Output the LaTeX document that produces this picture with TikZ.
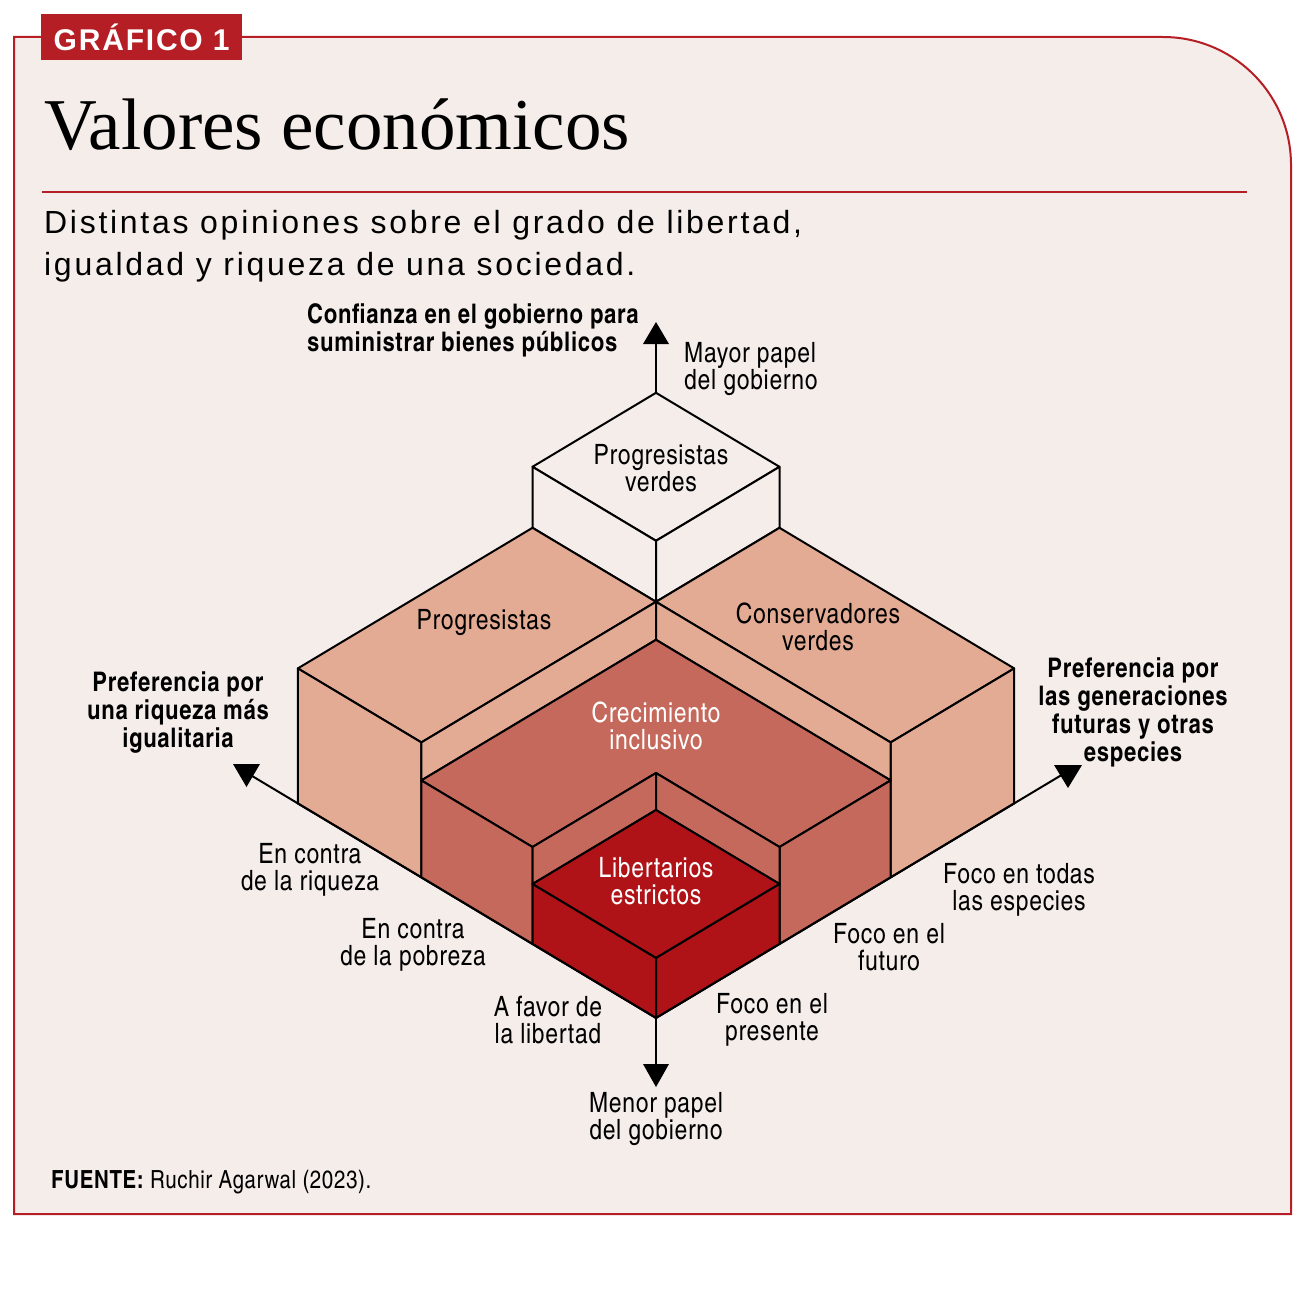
\documentclass[tikz,border=0pt]{standalone}
\usepackage{fontspec}
\usepackage{tikz}
\usetikzlibrary{positioning}
\setmainfont{Liberation Sans}
\newfontfamily\condensada{texgyreheroscn}[Extension=.otf, UprightFont=*-regular, BoldFont=*-bold, LetterSpace=2.5]
\newfontfamily\serifa{Liberation Serif}
\newfontfamily\espaciada{Liberation Sans}[LetterSpace=6]
\newfontfamily\subtitular{Liberation Sans}[LetterSpace=8.5]
\definecolor{fondo}{HTML}{F5EDEA}
\definecolor{rojo}{HTML}{B51E24}
\definecolor{salmon}{HTML}{E3AB94}
\definecolor{medio}{HTML}{C5695C}
\definecolor{oscuro}{HTML}{AF1318}
\tikzstyle{cara} = [draw=black, line width=2pt, line join=round]
\tikzstyle{eje} = [draw=black, line width=2pt]
\tikzstyle{punta} = [fill=black]
\tikzstyle{etiqueta} = [font=\condensada\fontsize{28}{27}\selectfont, align=center, inner sep=0pt]
\tikzstyle{etiquetanegrita} = [font=\condensada\bfseries\fontsize{27}{28}\selectfont, align=center, inner sep=0pt]
\tikzstyle{etiquetablanca} = [etiqueta, text=white]
\begin{document}
\begin{tikzpicture}[x=1pt, y=-1pt]
	\fill[white] (0,0) rectangle (1300,1300);
	\useasboundingbox (0,0) rectangle (1300,1300);
	\path[fill=fondo, draw=rojo, line width=2pt] (14,1214) -- (14,37) -- (1163,37) arc[start angle=90, end angle=0, radius=128pt] -- (1291,1214) -- cycle;
	\node[fill=rojo, text=white, font=\espaciada\bfseries\fontsize{30}{30}\selectfont, minimum width=201pt, minimum height=46pt, inner sep=0pt, anchor=north west] (grafico) at (41,14) {GRÁFICO 1};
	\node[font=\serifa\fontsize{73}{73}\selectfont, inner sep=0pt, anchor=base west] (titulo) at (44,150) {Valores económicos};
	\draw[rojo, line width=2pt] (42,192) -- (1247,192);
	\node[font=\subtitular\fontsize{32}{42}\selectfont, align=left, inner sep=0pt, anchor=north west] (subtitulo) at (44,210) {Distintas opiniones sobre el grado de libertad,\\igualdad y riqueza de una sociedad.};

	\begin{scope}[shift={(656,1018)}, x={(-123.5pt,74pt)}, y={(123.5pt,74pt)}, z={(0pt,1pt)}]
		\coordinate (origen) at (0,0,0);
		\coordinate (cima) at (2.9,2.9,196);
		\coordinate (finIzq) at (3.28,0,0);
		\coordinate (finDer) at (0,3.3,0);
		\path[cara, fill=fondo] (1.9,1.9,196) -- (2.9,1.9,196) -- (2.9,2.9,196) -- (1.9,2.9,196) -- cycle;
		\path[cara, fill=fondo] (1.9,1.9,135) -- (2.9,1.9,135) -- (2.9,1.9,196) -- (1.9,1.9,196) -- cycle;
		\path[cara, fill=fondo] (1.9,1.9,135) -- (1.9,2.9,135) -- (1.9,2.9,196) -- (1.9,1.9,196) -- cycle;
		\path[cara, fill=salmon] (1.9,0,135) -- (2.9,0,135) -- (2.9,1.9,135) -- (1.9,1.9,135) -- cycle;
		\path[cara, fill=salmon] (1.9,0,0) -- (2.9,0,0) -- (2.9,0,135) -- (1.9,0,135) -- cycle;
		\path[cara, fill=salmon] (1.9,0,97) -- (1.9,1.9,97) -- (1.9,1.9,135) -- (1.9,0,135) -- cycle;
		\path[cara, fill=salmon] (0,1.9,135) -- (0,2.9,135) -- (1.9,2.9,135) -- (1.9,1.9,135) -- cycle;
		\path[cara, fill=salmon] (0,1.9,0) -- (0,2.9,0) -- (0,2.9,135) -- (0,1.9,135) -- cycle;
		\path[cara, fill=salmon] (0,1.9,97) -- (1.9,1.9,97) -- (1.9,1.9,135) -- (0,1.9,135) -- cycle;
		\path[cara, fill=medio] (1.9,0,97) -- (1.9,1.9,97) -- (0,1.9,97) -- (0,1,97) -- (1,1,97) -- (1,0,97) -- cycle;
		\path[cara, fill=medio] (1,0,0) -- (1.9,0,0) -- (1.9,0,97) -- (1,0,97) -- cycle;
		\path[cara, fill=medio] (0,1,0) -- (0,1.9,0) -- (0,1.9,97) -- (0,1,97) -- cycle;
		\path[cara, fill=medio] (1,0,60) -- (1,1,60) -- (1,1,97) -- (1,0,97) -- cycle;
		\path[cara, fill=medio] (0,1,60) -- (1,1,60) -- (1,1,97) -- (0,1,97) -- cycle;
		\path[cara, fill=oscuro] (0,0,60) -- (1,0,60) -- (1,1,60) -- (0,1,60) -- cycle;
		\path[cara, fill=oscuro] (0,0,0) -- (1,0,0) -- (1,0,60) -- (0,0,60) -- cycle;
		\path[cara, fill=oscuro] (0,0,0) -- (0,1,0) -- (0,1,60) -- (0,0,60) -- cycle;
	\end{scope}

	\coordinate (puntaArriba) at (656,322);
	\coordinate (puntaAbajo) at (656,1087);
	\coordinate (puntaIzq) at (246.5,787);
	\coordinate (puntaDer) at (1068,788);
	\draw[eje] (cima) -- ([yshift=-12pt]puntaArriba);
	\draw[eje] (origen) -- ([yshift=12pt]puntaAbajo);
	\draw[eje] (origen) -- (finIzq);
	\draw[eje] (origen) -- (finDer);
	\fill[punta] (puntaArriba) -- ++(-13,22) -- ++(26,0) -- cycle;
	\fill[punta] (puntaAbajo) -- ++(-13,-23) -- ++(26,0) -- cycle;
	\fill[punta] (puntaIzq) -- ++(-13.5,-23) -- ++(27,0) -- cycle;
	\fill[punta] (puntaDer) -- ++(-14,-23) -- ++(28,0) -- cycle;

	\node[etiqueta] (progverdes) at (661,468) {Progresistas\\verdes};
	\node[etiqueta] (progresistas) at (484,623) {Progresistas};
	\node[etiqueta] (conservadores) at (818,627) {Conservadores\\verdes};
	\node[etiquetablanca] (crecimiento) at (656,726) {Crecimiento\\inclusivo};
	\node[etiquetablanca] (libertarios) at (656,881) {Libertarios\\estrictos};
	\node[etiqueta] (riqueza) at (310,870) {En contra\\de la riqueza};
	\node[etiqueta] (pobreza) at (413,945) {En contra\\de la pobreza};
	\node[etiqueta] (libertad) at (548,1020) {A favor de\\la libertad};
	\node[etiqueta] (presente) at (772,1020) {Foco en el\\presente};
	\node[etiqueta] (futuro) at (889,947) {Foco en el\\futuro};
	\node[etiqueta] (especies) at (1019,890) {Foco en todas\\las especies};
	\node[etiqueta, below=5pt of puntaAbajo] (menor) {Menor papel\\del gobierno};
	\node[etiqueta, align=left, anchor=west] (mayor) at (684,369) {Mayor papel\\del gobierno};
	\node[etiquetanegrita, align=left, anchor=west] (confianza) at (307,330) {Confianza en el gobierno para\\suministrar bienes públicos};
	\node[etiquetanegrita] (igualitaria) at (178,713) {Preferencia por\\una riqueza más\\igualitaria};
	\node[etiquetanegrita] (generaciones) at (1133,712) {Preferencia por\\las generaciones\\futuras y otras\\especies};
	\node[etiqueta, font=\condensada\fontsize{25}{25}\selectfont, anchor=west] (fuente) at (51,1182) {{\bfseries FUENTE:} Ruchir Agarwal (2023).};
\end{tikzpicture}
\end{document}
